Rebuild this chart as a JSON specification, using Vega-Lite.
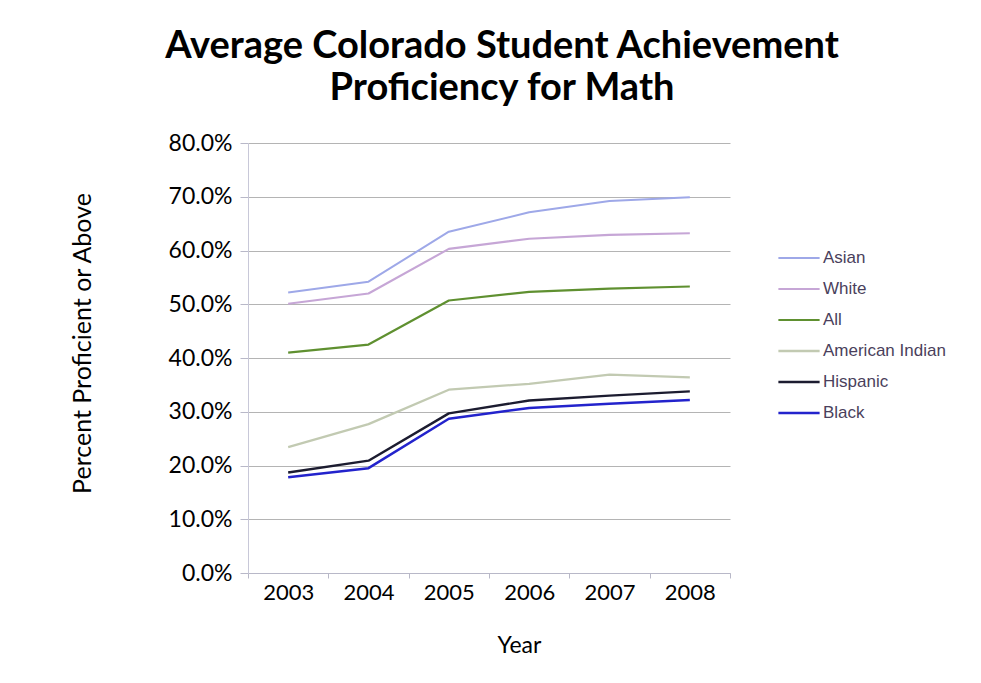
{
  "$schema": "https://vega.github.io/schema/vega-lite/v6.json",
  "autosize": {"type": "none"},
  "width": 482,
  "height": 430,
  "padding": {"left": 248, "top": 143, "right": 251, "bottom": 110},
  "background": "white",
  "title": {
    "text": ["Average Colorado Student Achievement", "Proficiency for Math"],
    "font": "Lato",
    "fontSize": 38,
    "fontWeight": "bold",
    "color": "#000000",
    "lineHeight": 42,
    "anchor": "middle",
    "dx": 13,
    "offset": 24
  },
  "data": {
    "values": [
      {"year": "2003", "group": "Asian", "value": 0.522},
      {"year": "2004", "group": "Asian", "value": 0.542},
      {"year": "2005", "group": "Asian", "value": 0.635},
      {"year": "2006", "group": "Asian", "value": 0.671},
      {"year": "2007", "group": "Asian", "value": 0.692},
      {"year": "2008", "group": "Asian", "value": 0.699},
      {"year": "2003", "group": "White", "value": 0.501},
      {"year": "2004", "group": "White", "value": 0.520},
      {"year": "2005", "group": "White", "value": 0.603},
      {"year": "2006", "group": "White", "value": 0.622},
      {"year": "2007", "group": "White", "value": 0.629},
      {"year": "2008", "group": "White", "value": 0.632},
      {"year": "2003", "group": "All", "value": 0.410},
      {"year": "2004", "group": "All", "value": 0.425},
      {"year": "2005", "group": "All", "value": 0.507},
      {"year": "2006", "group": "All", "value": 0.523},
      {"year": "2007", "group": "All", "value": 0.529},
      {"year": "2008", "group": "All", "value": 0.533},
      {"year": "2003", "group": "American Indian", "value": 0.234},
      {"year": "2004", "group": "American Indian", "value": 0.277},
      {"year": "2005", "group": "American Indian", "value": 0.341},
      {"year": "2006", "group": "American Indian", "value": 0.352},
      {"year": "2007", "group": "American Indian", "value": 0.369},
      {"year": "2008", "group": "American Indian", "value": 0.364},
      {"year": "2003", "group": "Hispanic", "value": 0.187},
      {"year": "2004", "group": "Hispanic", "value": 0.209},
      {"year": "2005", "group": "Hispanic", "value": 0.297},
      {"year": "2006", "group": "Hispanic", "value": 0.321},
      {"year": "2007", "group": "Hispanic", "value": 0.330},
      {"year": "2008", "group": "Hispanic", "value": 0.338},
      {"year": "2003", "group": "Black", "value": 0.178},
      {"year": "2004", "group": "Black", "value": 0.195},
      {"year": "2005", "group": "Black", "value": 0.287},
      {"year": "2006", "group": "Black", "value": 0.307},
      {"year": "2007", "group": "Black", "value": 0.315},
      {"year": "2008", "group": "Black", "value": 0.322}
    ]
  },
  "mark": {"type": "line", "strokeJoin": "round"},
  "encoding": {
    "x": {
      "field": "year",
      "type": "ordinal",
      "scale": {"type": "band", "paddingInner": 0, "paddingOuter": 0},
      "axis": {
        "title": "Year",
        "labelAngle": 0,
        "tickBand": "extent",
        "tickSize": 5,
        "tickColor": "#b8b8c8",
        "domainColor": "#b8b8c8",
        "labelFont": "Lato",
        "labelFontSize": 22,
        "labelColor": "#000000",
        "labelPadding": 4,
        "titleFont": "Lato",
        "titleFontSize": 23,
        "titleFontWeight": "normal",
        "titleColor": "#000000",
        "titleX": 271,
        "titleY": 72,
        "titleBaseline": "middle",
        "grid": false
      }
    },
    "y": {
      "field": "value",
      "type": "quantitative",
      "scale": {"domain": [0, 0.8], "nice": false},
      "axis": {
        "title": "Percent Proficient or Above",
        "format": ".1%",
        "values": [0, 0.1, 0.2, 0.3, 0.4, 0.5, 0.6, 0.7, 0.8],
        "tickSize": 8,
        "tickColor": "#b8b8c8",
        "domainColor": "#c8c8d8",
        "gridColor": "#b4b4b4",
        "labelFont": "Lato",
        "labelFontSize": 23,
        "labelColor": "#000000",
        "labelPadding": 8,
        "titleFont": "Lato",
        "titleFontSize": 25,
        "titleFontWeight": "normal",
        "titleColor": "#000000",
        "titleX": -166,
        "titleY": 200,
        "titleBaseline": "middle",
        "titleAngle": -90
      }
    },
    "color": {
      "field": "group",
      "type": "nominal",
      "sort": ["Asian", "White", "All", "American Indian", "Hispanic", "Black"],
      "scale": {
        "domain": ["Asian", "White", "All", "American Indian", "Hispanic", "Black"],
        "range": ["#9ea8e8", "#c6a6d6", "#5f9030", "#c2cab2", "#1c1c30", "#2323cc"]
      },
      "legend": {
        "title": null,
        "orient": "none",
        "legendX": 529,
        "legendY": 93,
        "symbolType": "stroke",
        "symbolSize": 1700,
        "symbolStrokeWidth": 3,
        "labelFont": "Liberation Sans",
        "labelFontSize": 17,
        "labelColor": "#4a3f5c",
        "labelOffset": 2,
        "rowPadding": 1
      }
    },
    "strokeWidth": {
      "field": "group",
      "type": "nominal",
      "scale": {
        "domain": ["Asian", "White", "All", "American Indian", "Hispanic", "Black"],
        "range": [2, 2.5, 3, 2, 3, 3]
      },
      "legend": null
    }
  },
  "config": {"view": {"stroke": null}}
}
